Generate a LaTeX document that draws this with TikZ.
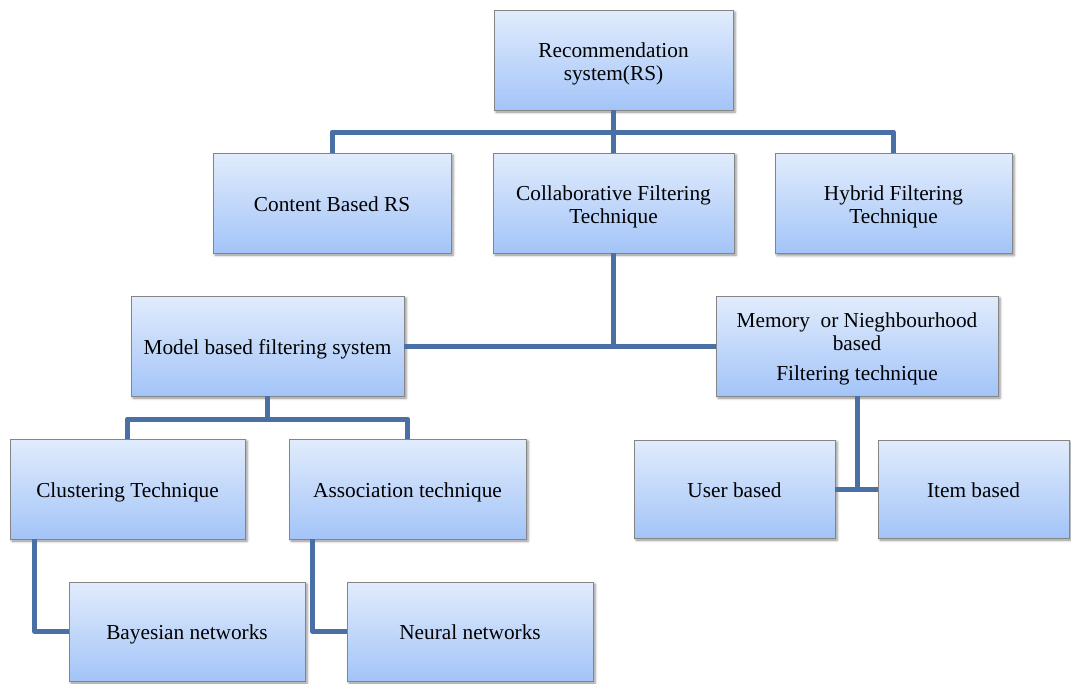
\documentclass[tikz,border=0pt]{standalone}
\usepackage{fontspec}
\setmainfont{Liberation Serif}
\usetikzlibrary{shadows.blur}
\definecolor{boxtop}{HTML}{E1ECFC}
\definecolor{boxbottom}{HTML}{A3C4F8}
\definecolor{boxline}{HTML}{858585}
\definecolor{linkblue}{HTML}{4A6FA5}
% centred multi-line label, drawn a little lower than its nominal box
\newcommand\linestack[2][4pt]{\raisebox{-#1}[\height][\depth]{\begin{tabular}{@{}c@{}}#2\end{tabular}}}
\tikzset{
  box/.style={draw=boxline, line width=0.8pt, top color=boxtop, bottom color=boxbottom,
    align=center, inner sep=0pt, font=\fontsize{21.3}{23}\selectfont,
    blur shadow={shadow xshift=2pt, shadow yshift=-2pt, shadow blur radius=2.5pt, shadow opacity=45}},
  oneline/.style={box, text height=16pt, text depth=0pt},
  link/.style={draw=linkblue, line width=5pt, line join=round}
}
\begin{document}
\begin{tikzpicture}[x=1pt,y=-1pt]
\useasboundingbox (0,0) rectangle (1071,683);

% tree nodes
\node[box, minimum width=239pt, minimum height=100pt] (root)   at (613.5,60)  {\linestack{Recommendation\\system(RS)}};
\node[oneline, minimum width=238pt, minimum height=100pt] (content) at (332,203)  {Content Based RS};
\node[box, minimum width=241pt, minimum height=100pt] (collab)  at (613.5,203) {\linestack{Collaborative Filtering\\Technique}};
\node[box, minimum width=237pt, minimum height=100pt] (hybrid)  at (893.5,203.5) {\linestack{Hybrid Filtering\\Technique}};
\node[oneline, minimum width=273pt, minimum height=100pt] (model)   at (267.5,346) {Model based filtering system};
\node[box, minimum width=282pt, minimum height=100pt] (memory)  at (857,346)   {\linestack[3pt]{Memory\ \ or Nieghbourhood\\based\\[7pt]Filtering technique}};
\node[oneline, minimum width=235pt, minimum height=100pt] (clust)   at (127.5,489) {Clustering Technique};
\node[oneline, minimum width=237pt, minimum height=100pt] (assoc)   at (407.5,489) {Association technique};
\node[oneline, minimum width=201pt, minimum height=98pt]  (user)    at (734.5,489) {User based};
\node[oneline, minimum width=191pt, minimum height=98pt]  (item)    at (973.5,489) {Item based};
\node[oneline, minimum width=236pt, minimum height=99pt]  (bayes)   at (187,631.5) {Bayesian networks};
\node[oneline, minimum width=246pt, minimum height=99pt]  (neural)  at (470,631.5) {Neural networks};

% junction points
\coordinate (rb) at (613.5,132);
\coordinate (mb) at (267.5,419);

% connectors
\draw[link] (root.south) -- (rb);
\draw[link] (content.north) |- (rb) -| (hybrid.north);
\draw[link] (collab.north) -- (rb);
\draw[link] (model.east) -- (memory.west);
\draw[link] (collab.south) -- (collab.south |- model.east);
\draw[link] (model.south) -- (mb);
\draw[link] (clust.north) |- (mb) -| (assoc.north);
\draw[link] ([xshift=25pt]clust.south west) |- (bayes.west);
\draw[link] ([xshift=24pt]assoc.south west) |- (neural.west);
\draw[link] (user.east) -- (item.west);
\draw[link] (memory.south) -- (memory.south |- user.east);
\end{tikzpicture}
\end{document}
